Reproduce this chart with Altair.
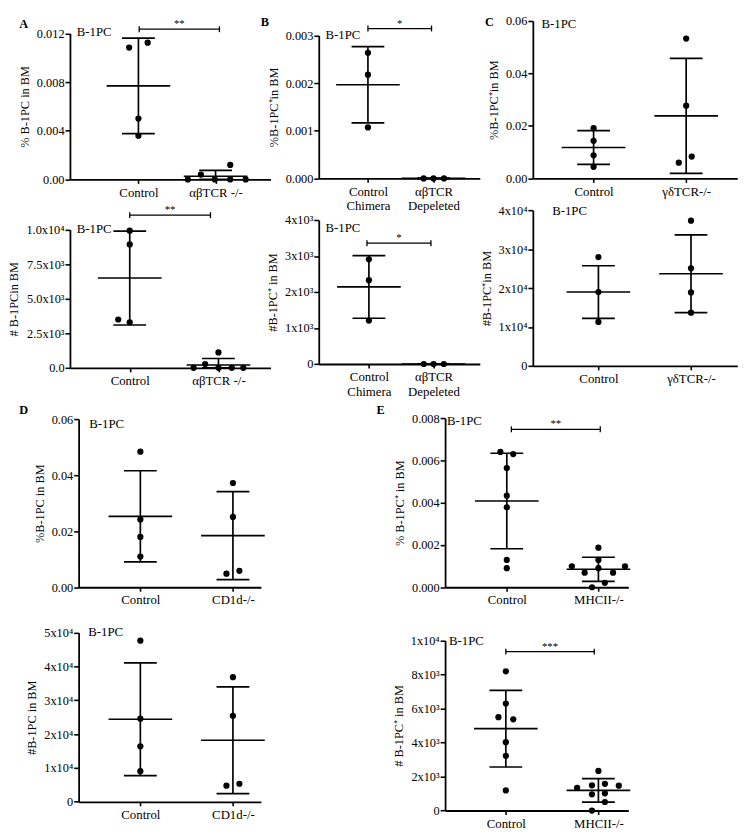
import altair as alt
import pandas as pd

FONT = "Liberation Serif"
SX = 737 / 753
SY = 822 / 838
W_ALL = 737
H_ALL = 822

# ---------------- data ----------------
# Panel A (top: %, bottom: #)
A1_GROUPS = ["Control", "αβTCR -/-"]
A1_CTRL = [0.01084, 0.01124, 0.00500, 0.00359]
A1_CTRL_JIT = [-0.12, 0.12, 0.0, 0.0]
A1_KO = [0.0, 0.00040, 0.0, 0.00119, 0.0, 0.0]
A1_KO_JIT = [-0.36, -0.19, -0.01, 0.19, 0.19, 0.39]
A1_MEAN = [0.00769, 0.00026]
A1_SD = [0.00392, 0.00048]
A1_TICKS = [0, 0.004, 0.008, 0.012]
A1_TICK_LABELS = ["0.00", "0.004", "0.008", "0.012"]
A1_SIG = "**"
A1_SIG_Y = 0.01235
A1_SIG_X = [1.01, 2.05]

A2_GROUPS = ["Control", "αβTCR -/-"]
A2_CTRL = [9930, 8930, 3500, 3300]
A2_CTRL_JIT = [0.0, 0.0, -0.13, 0.0]
A2_KO = [0, 280, 1120, 0, 0, 0]
A2_KO_JIT = [-0.28, -0.15, 0.0, 0.0, 0.15, 0.28]
A2_MEAN = [6500, 210]
A2_SD = [3400, 470]
A2_TICKS = [0, 2500, 5000, 7500, 10000]
A2_TICK_LABELS = ["0.0", "2.5x10³", "5.0x10³", "7.5x10³", "1.0x10⁴"]
A2_SIG = "**"
A2_SIG_Y = 11050
A2_SIG_X = [1.0, 1.91]

# Panel B
B_GROUPS = [["Control", "Chimera"], ["αβTCR", "Depeleted"]]
B1_CTRL = [0.002636, 0.002175, 0.00107]
B1_CTRL_JIT = [0.0, 0.0, 0.0]
B1_KO = [0.0, 0.0, 0.0]
B1_KO_JIT = [-0.15, 0.0, 0.16]
B1_MEAN = [0.001965, 0.0]
B1_SD = [0.0008, 0.0]
B1_TICKS = [0, 0.001, 0.002, 0.003]
B1_TICK_LABELS = ["0.000", "0.001", "0.002", "0.003"]
B1_SIG = "*"
B1_SIG_Y = 0.003144
B1_SIG_X = [1.0, 1.97]

B2_CTRL = [2907, 2328, 1208]
B2_CTRL_JIT = [0.0, 0.0, 0.0]
B2_KO = [0, 0, 0]
B2_KO_JIT = [-0.15, 0.0, 0.16]
B2_MEAN = [2140, 0]
B2_SD = [870, 0]
B2_TICKS = [0, 1000, 2000, 3000, 4000]
B2_TICK_LABELS = ["0", "1x10³", "2x10³", "3x10³", "4x10³"]
B2_SIG = "*"
B2_SIG_Y = 3355
B2_SIG_X = [0.97, 1.96]

# Panel C
C_GROUPS = ["Control", "γδTCR-/-"]
C1_CTRL = [0.01914, 0.01435, 0.00883, 0.00442]
C1_CTRL_JIT = [0.0, 0.0, 0.0, 0.0]
C1_KO = [0.05326, 0.02771, 0.0060, 0.00835]
C1_KO_JIT = [0.0, 0.0, -0.08, 0.06]
C1_MEAN = [0.01178, 0.02381]
C1_SD = [0.0064, 0.0219]
C1_TICKS = [0, 0.02, 0.04, 0.06]
C1_TICK_LABELS = ["0.00", "0.02", "0.04", "0.06"]

C2_CTRL = [28000, 19000, 11300]
C2_CTRL_JIT = [0.0, 0.0, 0.0]
C2_KO = [37350, 25100, 18900, 13700]
C2_KO_JIT = [0.0, 0.0, 0.0, 0.0]
C2_MEAN = [19000, 23700]
C2_SD = [6760, 10000]
C2_TICKS = [0, 10000, 20000, 30000, 40000]
C2_TICK_LABELS = ["0", "1x10⁴", "2x10⁴", "3x10⁴", "4x10⁴"]

# Panel D
D_GROUPS = ["Control", "CD1d-/-"]
D1_CTRL = [0.04836, 0.02418, 0.01796, 0.01094]
D1_CTRL_JIT = [0.0, 0.0, 0.0, 0.0]
D1_KO = [0.0372, 0.0251, 0.00484, 0.00587]
D1_KO_JIT = [0.0, 0.0, -0.07, 0.07]
D1_MEAN = [0.02532, 0.01842]
D1_SD = [0.01624, 0.01572]
D1_TICKS = [0, 0.02, 0.04, 0.06]
D1_TICK_LABELS = ["0.00", "0.02", "0.04", "0.06"]

D2_CTRL = [47630, 24570, 16400, 9060]
D2_CTRL_JIT = [0.0, 0.0, 0.0, 0.0]
D2_KO = [36860, 25430, 4770, 5340]
D2_KO_JIT = [0.0, 0.0, -0.07, 0.07]
D2_MEAN = [24400, 18200]
D2_SD = [16670, 15760]
D2_TICKS = [0, 10000, 20000, 30000, 40000, 50000]
D2_TICK_LABELS = ["0", "1x10⁴", "2x10⁴", "3x10⁴", "4x10⁴", "5x10⁴"]

# Panel E
E_GROUPS = ["Control", "MHCII-/-"]
E1_CTRL = [0.0064, 0.0063, 0.00564, 0.00433, 0.00378, 0.00129, 0.0009]
E1_CTRL_JIT = [-0.07, 0.07, 0.0, 0.0, 0.0, 0.0, 0.0]
E1_KO = [0.00099, 0.00069, 0.00187, 0.00129, 0.0009, 0.00069, 0.00099, 0.0, 0.00021]
E1_KO_JIT = [-0.29, -0.15, 0.0, 0.0, 0.0, 0.16, 0.29, -0.07, 0.07]
E1_MEAN = [0.00408, 0.00085]
E1_SD = [0.00226, 0.00057]
E1_TICKS = [0, 0.002, 0.004, 0.006, 0.008]
E1_TICK_LABELS = ["0.000", "0.002", "0.004", "0.006", "0.008"]
E1_SIG = "**"
E1_SIG_Y = 0.00747
E1_SIG_X = [1.05, 2.02]

E2_CTRL = [8180, 6290, 5490, 5360, 4020, 3220, 1180]
E2_CTRL_JIT = [0.0, 0.0, -0.08, 0.08, 0.0, 0.0, 0.0]
E2_KO = [1330, 1480, 950, 2330, 1570, 1010, 0, 1460, 500]
E2_KO_JIT = [-0.23, -0.07, -0.07, 0.0, 0.07, 0.07, -0.07, 0.22, 0.07]
E2_MEAN = [4810, 1180]
E2_SD = [2250, 690]
E2_TICKS = [0, 2000, 4000, 6000, 8000, 10000]
E2_TICK_LABELS = ["0", "2x10³", "4x10³", "6x10³", "8x10³", "1x10⁴"]
E2_SIG = "***"
E2_SIG_Y = 9340
E2_SIG_X = [1.0, 1.955]

# ---------------- layout (reference pixel geometry) ----------------
# left, top, right, bottom of plot area, x of group 1, x of group 2
GEO = {
    "A1": (53, 18, 261, 169, 124, 204),
    "A2": (53, 221, 261, 364, 115, 207),
    "B1": (311, 20, 478, 168, 362, 430),
    "B2": (311, 211, 478, 360, 363, 430),
    "C1": (533, 5, 745, 168, 596, 692),
    "C2": (533, 201, 745, 362, 601, 697),
    "D1": (62, 417, 251, 591, 126, 222),
    "D2": (62, 638, 251, 813, 126, 222),
    "E1": (442, 416, 632, 591, 506, 601),
    "E2": (442, 646, 632, 822, 505, 601),
}
LABEL_POS = {
    "A1": (60, 17), "A2": (60, 220), "B1": (318, 20), "B2": (318, 219),
    "C1": (542, 8), "C2": (553, 202), "D1": (73, 422), "D2": (72, 637),
    "E1": (444, 419), "E2": (446, 647),
}
LETTER_POS = {"A1": ("A", 5, 8), "B1": ("B", 255, 6), "C1": ("C", 488, 6),
              "D1": ("D", 5, 408), "E1": ("E", 375, 408)}
MEAN_HALF = 33
CAP_HALF = 17


def lab_expr(vals, labels):
    v = ",".join(repr(float(x)) for x in vals)

    def js(s):
        if isinstance(s, list):
            return "[" + ",".join("'" + t + "'" for t in s) + "]"
        return "'" + s + "'"
    l = ",".join(js(s) for s in labels)
    return f"[{l}][indexof([{v}], datum.value)]"


def panel(key, groups, ctrl, cjit, ko, kjit, mean, sd, ticks, tlabels, ytitle,
          sig=None, sig_y=None, sig_x=None):
    left, top, right, bottom, c1, c2 = GEO[key]
    sp = c2 - c1
    xmin = 1 - (c1 - left) / sp
    xmax = 2 + (right - c2) / sp
    xs = alt.Scale(domain=[xmin, xmax], range=[left * SX, right * SX], nice=False, zero=False)
    ys = alt.Scale(domain=[ticks[0], ticks[-1]], range=[bottom * SY, top * SY],
                   nice=False, zero=False)
    xaxis = alt.Axis(values=[1, 2], labelExpr=lab_expr([1, 2], groups), title=None,
                     orient="bottom", offset=bottom * SY - H_ALL,
                     tickSize=4, labelFont=FONT, labelFontSize=13, labelPadding=3,
                     labelLineHeight=15, labelFlush=False)
    yaxis = alt.Axis(values=ticks, labelExpr=lab_expr(ticks, tlabels), title=ytitle,
                     orient="left", offset=-left * SX,
                     tickSize=5, labelFont=FONT, titleFont=FONT, labelFontSize=12.5,
                     titleFontSize=12.5, labelPadding=1, titlePadding=5)

    def X(f):
        return alt.X(f"{f}:Q", scale=xs, axis=xaxis)

    def Y(f):
        return alt.Y(f"{f}:Q", scale=ys, axis=yaxis)

    pts = pd.DataFrame({"x": [1 + j for j in cjit] + [2 + j for j in kjit],
                        "y": list(ctrl) + list(ko)})
    s = pd.DataFrame({"pos": [1, 2], "mean": mean, "sd": sd})
    s["hi"] = s["mean"] + s["sd"]
    s["lo"] = (s["mean"] - s["sd"]).clip(lower=0)
    s["ml"] = s["pos"] - MEAN_HALF / sp
    s["mr"] = s["pos"] + MEAN_HALF / sp
    s["cl"] = s["pos"] - CAP_HALF / sp
    s["cr"] = s["pos"] + CAP_HALF / sp

    layers = []
    layers.append(alt.Chart(pts).mark_circle(size=40, color="black", opacity=1)
                  .encode(x=X("x"), y=Y("y")))
    base = alt.Chart(s)
    layers.append(base.mark_rule(color="black", strokeWidth=1.7)
                  .encode(x=X("ml"), x2="mr", y=Y("mean")))
    layers.append(base.mark_rule(color="black", strokeWidth=1.7)
                  .encode(x=X("pos"), y=Y("lo"), y2="hi"))
    layers.append(base.mark_rule(color="black", strokeWidth=1.7)
                  .encode(x=X("cl"), x2="cr", y=Y("hi")))
    layers.append(base.mark_rule(color="black", strokeWidth=1.7)
                  .encode(x=X("cl"), x2="cr", y=Y("lo")))
    if sig is not None:
        sd_ = pd.DataFrame({"x1": [sig_x[0]], "x2": [sig_x[1]], "y": [sig_y],
                            "xm": [(sig_x[0] + sig_x[1]) / 2], "t": [sig]})
        layers.append(alt.Chart(sd_).mark_rule(color="black", strokeWidth=1.3)
                      .encode(x=X("x1"), x2="x2", y=Y("y")))
        ends = pd.DataFrame({"x": sig_x, "y": [sig_y, sig_y]})
        layers.append(alt.Chart(ends).mark_point(shape="M0,-1L0,1", size=36, color="black",
                                                 filled=False, strokeWidth=1.3, opacity=1)
                      .encode(x=X("x"), y=Y("y")))
        layers.append(alt.Chart(sd_).mark_text(font=FONT, fontSize=11, dy=-5, color="black")
                      .encode(x=X("xm"), y=Y("y"), text="t:N"))
    lx, ly = LABEL_POS[key]
    layers.append(alt.Chart(pd.DataFrame({"t": ["B-1PC"]}))
                  .mark_text(font=FONT, fontSize=13, align="left", baseline="middle", color="black")
                  .encode(x=alt.value(lx * SX), y=alt.value(ly * SY), text="t:N"))
    if key in LETTER_POS:
        t, px, py = LETTER_POS[key]
        layers.append(alt.Chart(pd.DataFrame({"t": [t]}))
                      .mark_text(font=FONT, fontSize=12.5, fontWeight="bold", align="center",
                                 baseline="middle", color="black")
                      .encode(x=alt.value(px * SX), y=alt.value(py * SY), text="t:N"))
    return alt.layer(*layers)


panels = [
    panel("A1", A1_GROUPS, A1_CTRL, A1_CTRL_JIT, A1_KO, A1_KO_JIT, A1_MEAN, A1_SD,
          A1_TICKS, A1_TICK_LABELS, "% B-1PC in BM", A1_SIG, A1_SIG_Y, A1_SIG_X),
    panel("A2", A2_GROUPS, A2_CTRL, A2_CTRL_JIT, A2_KO, A2_KO_JIT, A2_MEAN, A2_SD,
          A2_TICKS, A2_TICK_LABELS, "# B-1PCin BM", A2_SIG, A2_SIG_Y, A2_SIG_X),
    panel("B1", B_GROUPS, B1_CTRL, B1_CTRL_JIT, B1_KO, B1_KO_JIT, B1_MEAN, B1_SD,
          B1_TICKS, B1_TICK_LABELS, "%B-1PC⁺in BM", B1_SIG, B1_SIG_Y, B1_SIG_X),
    panel("B2", B_GROUPS, B2_CTRL, B2_CTRL_JIT, B2_KO, B2_KO_JIT, B2_MEAN, B2_SD,
          B2_TICKS, B2_TICK_LABELS, "#B-1PC⁺ in BM", B2_SIG, B2_SIG_Y, B2_SIG_X),
    panel("C1", C_GROUPS, C1_CTRL, C1_CTRL_JIT, C1_KO, C1_KO_JIT, C1_MEAN, C1_SD,
          C1_TICKS, C1_TICK_LABELS, "%B-1PC⁺in BM"),
    panel("C2", C_GROUPS, C2_CTRL, C2_CTRL_JIT, C2_KO, C2_KO_JIT, C2_MEAN, C2_SD,
          C2_TICKS, C2_TICK_LABELS, "#B-1PC⁺in BM"),
    panel("D1", D_GROUPS, D1_CTRL, D1_CTRL_JIT, D1_KO, D1_KO_JIT, D1_MEAN, D1_SD,
          D1_TICKS, D1_TICK_LABELS, "%B-1PC in BM"),
    panel("D2", D_GROUPS, D2_CTRL, D2_CTRL_JIT, D2_KO, D2_KO_JIT, D2_MEAN, D2_SD,
          D2_TICKS, D2_TICK_LABELS, "#B-1PC in BM"),
    panel("E1", E_GROUPS, E1_CTRL, E1_CTRL_JIT, E1_KO, E1_KO_JIT, E1_MEAN, E1_SD,
          E1_TICKS, E1_TICK_LABELS, "% B-1PC⁺ in BM", E1_SIG, E1_SIG_Y, E1_SIG_X),
    panel("E2", E_GROUPS, E2_CTRL, E2_CTRL_JIT, E2_KO, E2_KO_JIT, E2_MEAN, E2_SD,
          E2_TICKS, E2_TICK_LABELS, "# B-1PC⁺ in BM", E2_SIG, E2_SIG_Y, E2_SIG_X),
]

chart = (alt.layer(*panels)
         .resolve_scale(x="independent", y="independent")
         .resolve_axis(x="independent", y="independent")
         .properties(width=W_ALL, height=H_ALL, padding=0)
         .configure_view(stroke=None)
         .configure_axis(labelFont=FONT, titleFont=FONT, titleFontWeight="normal",
                         labelColor="black", titleColor="black", domainColor="black",
                         tickColor="black", domainWidth=1.8, tickWidth=1.6, grid=False,
                         labelOverlap=False))

chart.save("out.html", embed_options={"renderer": "svg", "actions": False})
